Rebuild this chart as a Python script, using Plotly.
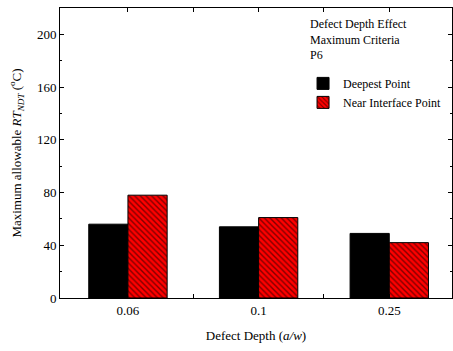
import plotly.graph_objects as go

categories = ["0.06", "0.1", "0.25"]
deepest = [56, 54, 49]
near_interface = [78, 61, 42]
y_ticks = [0, 40, 80, 120, 160, 200]

FONT = "Liberation Serif"

fig = go.Figure()
fig.add_trace(go.Bar(
    x=list(range(len(categories))), y=deepest, name="Deepest Point",
    marker=dict(color="black", line=dict(color="black", width=1)),
    width=0.3, offset=-0.3,
))
fig.add_trace(go.Bar(
    x=list(range(len(categories))), y=near_interface, name="Near Interface Point",
    marker=dict(color="red", line=dict(color="black", width=1),
                pattern=dict(shape="\\", fgcolor="black", bgcolor="red", size=4, solidity=0.35)),
    width=0.3, offset=0,
))

fig.update_layout(
    width=453, height=351,
    margin=dict(l=60, r=1, t=8, b=53, autoexpand=False),
    paper_bgcolor="white", plot_bgcolor="white",
    font=dict(family=FONT, size=13, color="black"),
    showlegend=True,
    legend=dict(x=0.62, y=0.79, xanchor="left", yanchor="top",
                bgcolor="rgba(0,0,0,0)", font=dict(family=FONT, size=12),
                tracegroupgap=0, itemwidth=30),
    xaxis=dict(
        range=[-0.52, 2.48],
        tickmode="array", tickvals=list(range(len(categories))), ticktext=categories,
        ticks="inside", ticklen=4, tickcolor="black",
        minor=dict(tickmode="array", tickvals=[0.5, 1.5], ticks="inside", ticklen=4, tickcolor="black"),
        showline=True, linecolor="black", linewidth=1, mirror="ticks",
        showgrid=False, zeroline=False,
        title=dict(text="Defect Depth (<i>a/w</i>)", font=dict(family=FONT, size=13), standoff=14),
        tickfont=dict(family=FONT, size=13),
    ),
    yaxis=dict(
        range=[0, 220],
        tickmode="array", tickvals=y_ticks,
        ticks="inside", ticklen=4, tickcolor="black",
        minor=dict(tickmode="array", tickvals=[20, 60, 100, 140, 180], ticks="inside", ticklen=2, tickcolor="black"),
        showline=True, linecolor="black", linewidth=1, mirror="ticks",
        showgrid=False, zeroline=False,
        title=dict(text="Maximum allowable <i>RT</i><sub><i>NDT</i></sub> (<sup>o</sup>C)",
                   font=dict(family=FONT, size=13), standoff=12),
        tickfont=dict(family=FONT, size=13),
    ),
    annotations=[dict(
        x=0.632, y=0.975, xref="paper", yref="paper", xanchor="left", yanchor="top",
        align="left", showarrow=False,
        text="Defect Depth Effect<br>Maximum Criteria<br>P6",
        font=dict(family=FONT, size=12),
    )],
)

fig.write_html("out.html", config={"displayModeBar": False},
               post_script="document.body.style.margin='0';document.body.style.overflow='hidden';")
